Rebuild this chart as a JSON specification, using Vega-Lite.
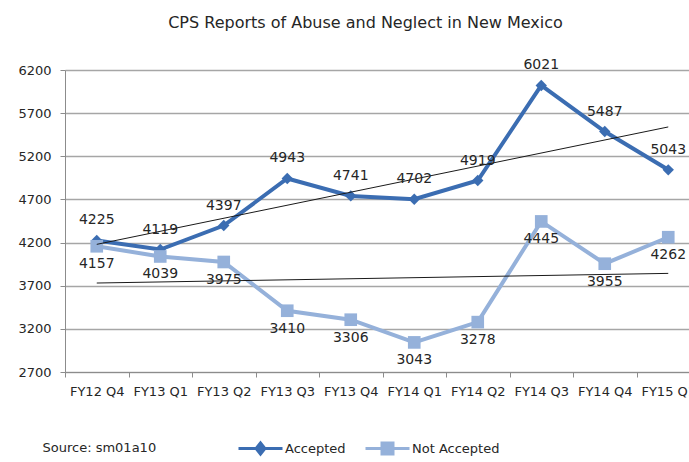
{
  "$schema": "https://vega.github.io/schema/vega-lite/v6.json",
  "autosize": {"type": "none"},
  "padding": {"left": 65, "top": 70, "right": 0, "bottom": 90},
  "width": 635,
  "height": 302,
  "background": "white",
  "title": {
    "text": "CPS Reports of Abuse and Neglect in New Mexico",
    "font": "DejaVu Sans",
    "fontSize": 16,
    "fontWeight": "normal",
    "color": "#262626",
    "anchor": "middle",
    "frame": "group",
    "dx": -17,
    "offset": 27
  },
  "datasets": {
    "main": [
      {"quarter": "FY12 Q4", "idx": 1, "series": "Accepted", "value": 4225},
      {"quarter": "FY13 Q1", "idx": 2, "series": "Accepted", "value": 4119},
      {"quarter": "FY13 Q2", "idx": 3, "series": "Accepted", "value": 4397},
      {"quarter": "FY13 Q3", "idx": 4, "series": "Accepted", "value": 4943},
      {"quarter": "FY13 Q4", "idx": 5, "series": "Accepted", "value": 4741},
      {"quarter": "FY14 Q1", "idx": 6, "series": "Accepted", "value": 4702},
      {"quarter": "FY14 Q2", "idx": 7, "series": "Accepted", "value": 4919},
      {"quarter": "FY14 Q3", "idx": 8, "series": "Accepted", "value": 6021},
      {"quarter": "FY14 Q4", "idx": 9, "series": "Accepted", "value": 5487},
      {"quarter": "FY15 Q1", "idx": 10, "series": "Accepted", "value": 5043},
      {"quarter": "FY12 Q4", "idx": 1, "series": "Not Accepted", "value": 4157},
      {"quarter": "FY13 Q1", "idx": 2, "series": "Not Accepted", "value": 4039},
      {"quarter": "FY13 Q2", "idx": 3, "series": "Not Accepted", "value": 3975},
      {"quarter": "FY13 Q3", "idx": 4, "series": "Not Accepted", "value": 3410},
      {"quarter": "FY13 Q4", "idx": 5, "series": "Not Accepted", "value": 3306},
      {"quarter": "FY14 Q1", "idx": 6, "series": "Not Accepted", "value": 3043},
      {"quarter": "FY14 Q2", "idx": 7, "series": "Not Accepted", "value": 3278},
      {"quarter": "FY14 Q3", "idx": 8, "series": "Not Accepted", "value": 4445},
      {"quarter": "FY14 Q4", "idx": 9, "series": "Not Accepted", "value": 3955},
      {"quarter": "FY15 Q1", "idx": 10, "series": "Not Accepted", "value": 4262}
    ]
  },
  "data": {"name": "main"},
  "encoding": {
    "x": {
      "field": "quarter",
      "type": "ordinal",
      "scale": {
        "type": "band",
        "paddingInner": 0,
        "paddingOuter": 0,
        "domain": ["FY12 Q4", "FY13 Q1", "FY13 Q2", "FY13 Q3", "FY13 Q4", "FY14 Q1", "FY14 Q2", "FY14 Q3", "FY14 Q4", "FY15 Q1"]
      },
      "axis": {
        "title": "Source: sm01a10",
        "titleFont": "DejaVu Sans",
        "titleFontSize": 13,
        "titleFontWeight": "normal",
        "titleColor": "#262626",
        "titleAnchor": "start",
        "titleAlign": "left",
        "titleBaseline": "middle",
        "titleX": -23,
        "titleY": 75,
        "labelAngle": 0,
        "labelFont": "DejaVu Sans",
        "labelFontSize": 13,
        "labelColor": "#262626",
        "labelPadding": 8,
        "tickBand": "extent",
        "tickSize": 5,
        "tickColor": "#8C8C8C",
        "domainColor": "#8C8C8C",
        "grid": false
      }
    },
    "y": {
      "field": "value",
      "type": "quantitative",
      "scale": {"domain": [2700, 6200], "nice": false, "zero": false},
      "axis": {
        "title": null,
        "format": "d",
        "values": [2700, 3200, 3700, 4200, 4700, 5200, 5700, 6200],
        "labelFont": "DejaVu Sans",
        "labelFontSize": 13,
        "labelColor": "#262626",
        "labelPadding": 9,
        "tickSize": 5,
        "tickColor": "#8C8C8C",
        "domainColor": "#8C8C8C",
        "gridColor": "#A6A6A6",
        "gridWidth": 1.5
      }
    },
    "color": {
      "field": "series",
      "type": "nominal",
      "scale": {"domain": ["Accepted", "Not Accepted"], "range": ["#3B6DB2", "#95B1DA"]},
      "legend": {
        "title": null,
        "orient": "none",
        "direction": "horizontal",
        "legendX": 172,
        "legendY": 355,
        "padding": 0,
        "symbolSize": 1936,
        "labelFont": "DejaVu Sans",
        "labelFontSize": 13,
        "labelColor": "#262626",
        "labelOffset": 1,
        "columnPadding": 13,
        "encode": {
          "symbols": {
            "update": {
              "shape": {"signal": "datum.value == 'Accepted' ? 'M-1,0L1,0M0,-0.25L0.2,0L0,0.25L-0.2,0Z' : 'M-1,0L1,0M-0.25,-0.25L0.25,-0.25L0.25,0.25L-0.25,0.25Z'"},
              "stroke": {"signal": "datum.value == 'Accepted' ? '#3B6DB2' : '#95B1DA'"},
              "fill": {"signal": "datum.value == 'Accepted' ? '#3B6DB2' : '#95B1DA'"},
              "strokeWidth": {"value": 3},
              "size": {"value": 1936},
              "opacity": {"value": 1}
            }
          }
        }
      }
    }
  },
  "layer": [
    {
      "mark": {"type": "line", "strokeWidth": 4},
      "encoding": {"detail": {"field": "series"}}
    },
    {
      "transform": [{"filter": "datum.series == 'Accepted'"}],
      "mark": {"type": "point", "filled": true, "opacity": 1, "size": 130, "shape": "diamond"}
    },
    {
      "transform": [{"filter": "datum.series == 'Not Accepted'"}],
      "mark": {"type": "point", "filled": true, "opacity": 1, "size": 160, "shape": "square"}
    },
    {
      "transform": [
        {"regression": "value", "on": "idx", "groupby": ["series"], "extent": [1, 10]},
        {"lookup": "idx", "from": {"data": {"name": "main"}, "key": "idx", "fields": ["quarter"]}}
      ],
      "mark": {"type": "line", "strokeWidth": 1},
      "encoding": {"detail": {"field": "series"}, "color": {"value": "#1A1A1A"}}
    },
    {
      "transform": [{"filter": "datum.series == 'Accepted'"}],
      "mark": {"type": "text", "font": "DejaVu Sans", "fontSize": 14, "dy": -20},
      "encoding": {"text": {"field": "value", "type": "quantitative", "format": "d"}, "color": {"value": "#262626"}}
    },
    {
      "transform": [{"filter": "datum.series == 'Not Accepted'"}],
      "mark": {"type": "text", "font": "DejaVu Sans", "fontSize": 14, "dy": 18},
      "encoding": {"text": {"field": "value", "type": "quantitative", "format": "d"}, "color": {"value": "#262626"}}
    }
  ],
  "config": {
    "view": {"stroke": null}
  }
}
